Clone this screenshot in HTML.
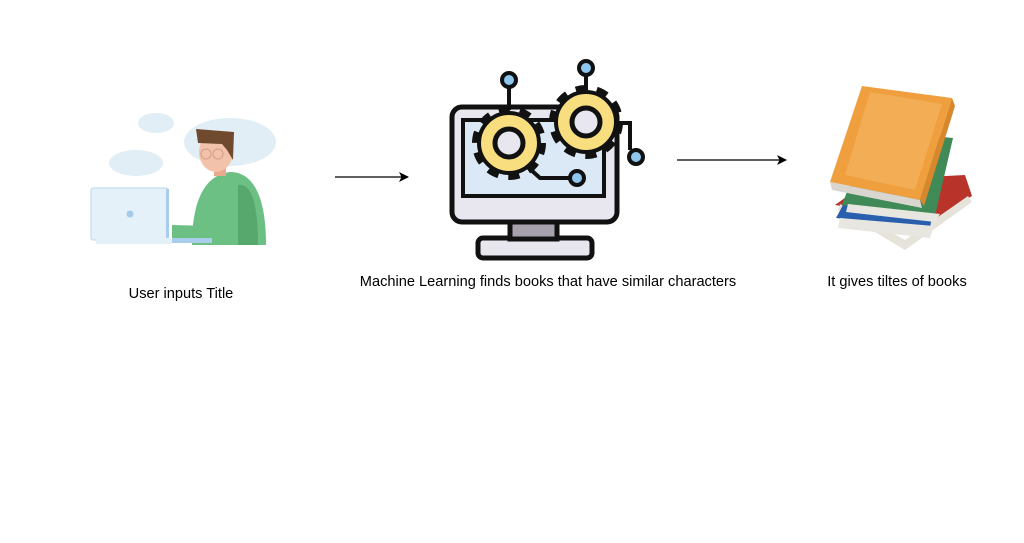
<!DOCTYPE html>
<html><head><meta charset="utf-8"><style>
html,body{margin:0;padding:0;background:#fff;width:1024px;height:543px;overflow:hidden}
svg{display:block}
text{font-family:"Liberation Sans",sans-serif;font-size:14.6px;fill:#000}
</style></head><body>
<svg width="1024" height="543" viewBox="0 0 1024 543">
<defs>
<marker id="ah" markerWidth="10" markerHeight="10" refX="9" refY="5" orient="auto" markerUnits="userSpaceOnUse"><path d="M0,0 L10,5 L0,10 L2.5,5 Z" fill="#000"/></marker>
</defs>
<!-- person -->
<g fill="#e1eef5">
<ellipse cx="156" cy="123" rx="18" ry="10"/>
<ellipse cx="136" cy="163" rx="27" ry="13"/>
<ellipse cx="230" cy="142" rx="46" ry="24"/>
</g>
<path d="M192,245 C192,200 205,175 230,172 C255,172 266,200 266,245 Z" fill="#6cc084"/>
<path d="M238,185 C252,183 258,205 258,245 L238,245 Z" fill="#56a86c"/>
<path d="M172,225 L210,226 L212,238 L172,240 Z" fill="#6cc084"/>
<rect x="214" y="160" width="12" height="16" fill="#e9a98e"/>
<ellipse cx="216" cy="152" rx="17" ry="20" fill="#f3c2aa"/>
<path d="M196,129 L234,132 L233,160 L227,150 L222,144 L198,143 Z" fill="#6f4a2e"/>
<circle cx="206" cy="154" r="5" fill="none" stroke="#d9a38b" stroke-width="1.3"/>
<circle cx="218" cy="154" r="5" fill="none" stroke="#d9a38b" stroke-width="1.3"/>
<rect x="91" y="188" width="77" height="52" rx="2" fill="#e5f1f8" stroke="#b9d9ef" stroke-width="1"/>
<rect x="166" y="189" width="3" height="50" fill="#a9cdea"/>
<circle cx="130" cy="214" r="3.5" fill="#a4cbea"/>
<rect x="96" y="238" width="76" height="6" fill="#e5f1f8"/>
<rect x="172" y="238" width="40" height="5" fill="#a9cdea"/>
<!-- arrows -->
<line x1="335" y1="177" x2="408" y2="177" stroke="#000" stroke-width="1.3" marker-end="url(#ah)"/>
<line x1="677" y1="160" x2="786" y2="160" stroke="#000" stroke-width="1.3" marker-end="url(#ah)"/>
<!-- monitor -->
<rect x="478" y="238" width="114" height="20" rx="5" fill="#e8e6ee" stroke="#111" stroke-width="5"/>
<rect x="510" y="220" width="47" height="19" fill="#a7a1ad" stroke="#111" stroke-width="5"/>
<rect x="452" y="107" width="165" height="115" rx="10" fill="#e8e6ee" stroke="#111" stroke-width="5"/>
<rect x="463" y="120" width="141" height="76" fill="#dbe9f7" stroke="#111" stroke-width="4"/>
<!-- wires -->
<g stroke="#111" stroke-width="4" fill="none">
<line x1="509" y1="85" x2="509" y2="110"/>
<line x1="586" y1="74" x2="586" y2="90"/>
<polyline points="520,160 540,178 570,178"/>
<polyline points="615,123 630,123 630,150"/>
</g>
<g fill="#8ec6ee" stroke="#111" stroke-width="4">
<circle cx="509" cy="80" r="7"/>
<circle cx="586" cy="68" r="7"/>
<circle cx="577" cy="178" r="7"/>
<circle cx="636" cy="157" r="7"/>
</g>
<!-- gears -->
<g>
<circle cx="509" cy="143" r="30" fill="none" stroke="#111" stroke-width="14" stroke-dasharray="10 8.85"/>
<circle cx="509" cy="143" r="30" fill="#f8de7e" stroke="#111" stroke-width="4"/>
<circle cx="509" cy="143" r="14" fill="#e8e6ee" stroke="#111" stroke-width="5"/>
<circle cx="586" cy="122" r="30" fill="none" stroke="#111" stroke-width="14" stroke-dasharray="10 8.85"/>
<circle cx="586" cy="122" r="30" fill="#f8de7e" stroke="#111" stroke-width="4"/>
<circle cx="586" cy="122" r="14" fill="#e8e6ee" stroke="#111" stroke-width="5"/>
</g>
<!-- books -->
<path d="M835,205 L930,222 L972,196 L965,175 L870,180 Z" fill="#b8342a"/>
<path d="M838,210 L905,250 L972,202 L968,196 L905,240 L840,204 Z" fill="#e6e3da"/>
<path d="M836,218 L930,228 L935,198 L850,192 Z" fill="#2a5fae"/>
<path d="M838,228 L930,238 L934,226 L840,218 Z" fill="#e8e6e0"/>
<path d="M842,205 L935,216 L953,138 L870,130 Z" fill="#3f8a57"/>
<path d="M846,212 L935,222 L940,214 L848,204 Z" fill="#e8e6e0"/>
<path d="M830,182 L920,200 L952,98 L862,86 Z" fill="#ef9f3e"/>
<path d="M845,175 L915,190 L942,104 L870,92 Z" fill="#f2ad55"/>
<path d="M830,182 L920,200 L922,208 L832,190 Z" fill="#d9d6cf"/>
<path d="M920,200 L952,98 L955,106 L924,206 Z" fill="#d8872c"/>
<!-- labels -->
<text x="181" y="298" text-anchor="middle">User inputs Title</text>
<text x="548" y="286" text-anchor="middle">Machine Learning finds books that have similar characters</text>
<text x="897" y="286" text-anchor="middle">It gives tiltes of books</text>
</svg>
</body></html>
